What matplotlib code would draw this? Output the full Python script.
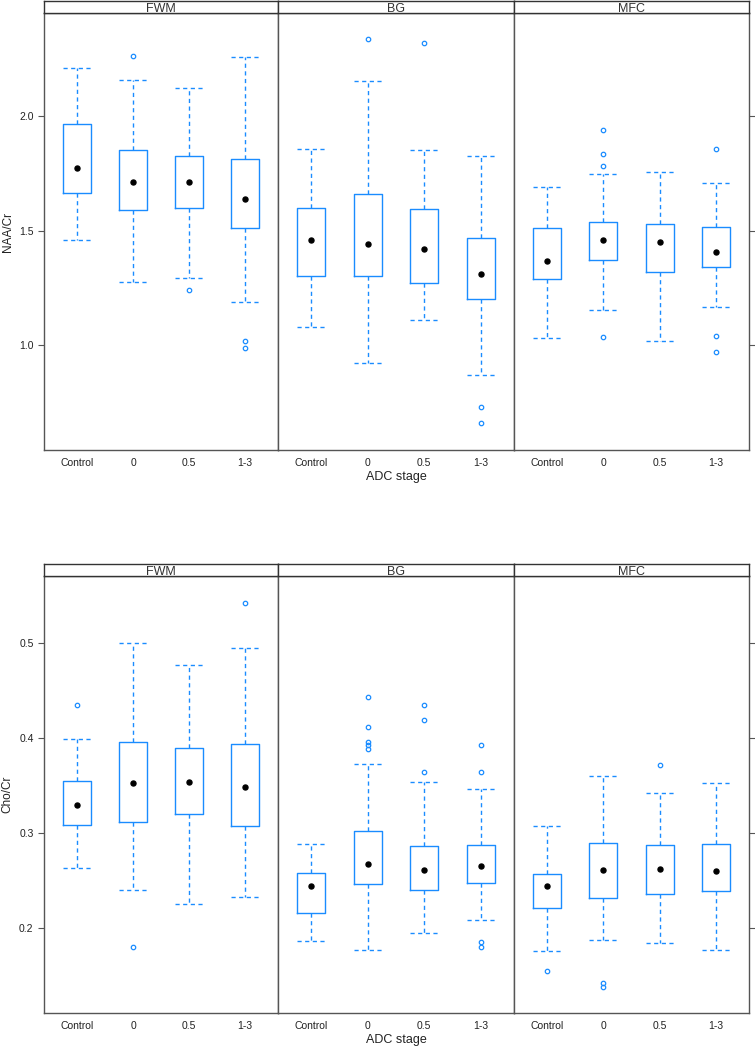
import matplotlib
matplotlib.use("Agg")
from matplotlib import pyplot as plt

plt.rcParams['font.family'] = ['Liberation Sans', 'DejaVu Sans']

groups = ["Control", "0", "0.5", "1-3"]
regions = ["FWM", "BG", "MFC"]

# five number summaries: lower whisker, Q1, median, Q3, upper whisker
naa_fwm = [[1.458, 1.664, 1.773, 1.965, 2.21],
           [1.275, 1.59, 1.71, 1.852, 2.157],
           [1.293, 1.60, 1.712, 1.825, 2.122],
           [1.188, 1.51, 1.637, 1.812, 2.258]]
naa_bg = [[1.08, 1.30, 1.458, 1.60, 1.856],
          [0.921, 1.30, 1.44, 1.66, 2.153],
          [1.109, 1.27, 1.42, 1.594, 1.85],
          [0.869, 1.20, 1.31, 1.467, 1.825]]
naa_mfc = [[1.03, 1.288, 1.367, 1.51, 1.69],
           [1.153, 1.372, 1.458, 1.537, 1.747],
           [1.017, 1.319, 1.45, 1.53, 1.755],
           [1.166, 1.34, 1.406, 1.515, 1.707]]
naa_fwm_out = [[], [2.262], [1.24], [1.017, 0.987]]
naa_bg_out = [[], [2.336], [2.32], [0.729, 0.659]]
naa_mfc_out = [[], [1.94, 1.834, 1.782, 1.035], [], [1.855, 1.04, 0.97]]

cho_fwm = [[0.263, 0.308, 0.329, 0.355, 0.399],
           [0.240, 0.312, 0.353, 0.396, 0.500],
           [0.225, 0.320, 0.354, 0.389, 0.476],
           [0.233, 0.307, 0.348, 0.394, 0.494]]
cho_bg = [[0.187, 0.216, 0.244, 0.258, 0.288],
          [0.177, 0.247, 0.268, 0.302, 0.373],
          [0.195, 0.240, 0.261, 0.286, 0.354],
          [0.209, 0.248, 0.265, 0.287, 0.346]]
cho_mfc = [[0.176, 0.221, 0.244, 0.257, 0.307],
           [0.188, 0.232, 0.261, 0.290, 0.360],
           [0.184, 0.236, 0.262, 0.287, 0.342],
           [0.177, 0.239, 0.260, 0.289, 0.353]]
cho_fwm_out = [[0.434], [0.18], [], [0.542]]
cho_bg_out = [[], [0.443, 0.411, 0.396, 0.392, 0.388], [0.435, 0.419, 0.364],
              [0.393, 0.364, 0.186, 0.180]]
cho_mfc_out = [[0.155], [0.142, 0.138], [0.372], []]

naa_ticks = [1.0, 1.5, 2.0]
cho_ticks = [0.2, 0.3, 0.4, 0.5]

blue = "#1a8cff"
frame = "#555555"

W, H = 755, 1050
fig = plt.figure(figsize=(W / 100, H / 100), dpi=100)

cols = [(44, 278), (278, 514), (514, 749)]


def draw_row(summaries, outliers, top, bottom, ylim, ticks, ylabel):
    strip_h = 12
    for k, (x0, x1) in enumerate(cols):
        ax = fig.add_axes([x0 / W, 1 - bottom / H, (x1 - x0) / W, (bottom - top) / H])
        stats = []
        for i, s in enumerate(summaries[k]):
            stats.append({"whislo": s[0], "q1": s[1], "med": s[2], "q3": s[3],
                          "whishi": s[4], "fliers": outliers[k][i]})
        ax.bxp(stats, positions=[1, 2, 3, 4], widths=0.5, capwidths=0.5,
               boxprops=dict(color=blue, linewidth=1.0),
               whiskerprops=dict(color=blue, linewidth=1, linestyle=(0, (3, 2.5))),
               capprops=dict(color=blue, linewidth=1, linestyle=(0, (3, 2.5))),
               medianprops=dict(linewidth=0),
               flierprops=dict(marker="o", markersize=3.2, markerfacecolor="none",
                               markeredgecolor=blue, markeredgewidth=0.9))
        meds = [s[2] for s in summaries[k]]
        ax.plot([1, 2, 3, 4], meds, "o", color="black", markersize=3.6, linestyle="none")
        ax.set_xlim(0.41, 4.59)
        ax.set_ylim(*ylim)
        ax.set_xticks([1, 2, 3, 4])
        ax.set_xticklabels(groups, fontsize=7.5, color="#222222")
        ax.tick_params(axis="x", length=0, pad=6)
        ax.set_yticks(ticks)
        if k == 0:
            ax.set_yticklabels([f"{t:.1f}" for t in ticks], fontsize=7.5, color="#222222")
            ax.tick_params(axis="y", left=True, right=False, length=4, color=frame)
            ax.set_ylabel(ylabel, fontsize=8.5, color="#222222", labelpad=4)
        elif k == 2:
            ax.tick_params(axis="y", left=False, right=True, labelleft=False,
                           length=4, color=frame)
        else:
            ax.tick_params(axis="y", left=False, labelleft=False)
        if k == 1:
            ax.set_xlabel("ADC stage", fontsize=9, color="#222222", labelpad=2)
        for sp in ax.spines.values():
            sp.set_color(frame)
            sp.set_linewidth(1)
        # strip on top of each panel
        st = fig.add_axes([x0 / W, 1 - top / H, (x1 - x0) / W, strip_h / H])
        st.set_xticks([])
        st.set_yticks([])
        for sp in st.spines.values():
            sp.set_color("#333333")
            sp.set_linewidth(1)
        st.text(0.5, 0.35, regions[k], ha="center", va="center", fontsize=9,
                color="#333333", transform=st.transAxes)


draw_row([naa_fwm, naa_bg, naa_mfc], [naa_fwm_out, naa_bg_out, naa_mfc_out],
         13, 450, (0.542, 2.45), naa_ticks, "NAA/Cr")
draw_row([cho_fwm, cho_bg, cho_mfc], [cho_fwm_out, cho_bg_out, cho_mfc_out],
         576, 1013, (0.111, 0.570), cho_ticks, "Cho/Cr")

fig.savefig("out.png", dpi=100)
